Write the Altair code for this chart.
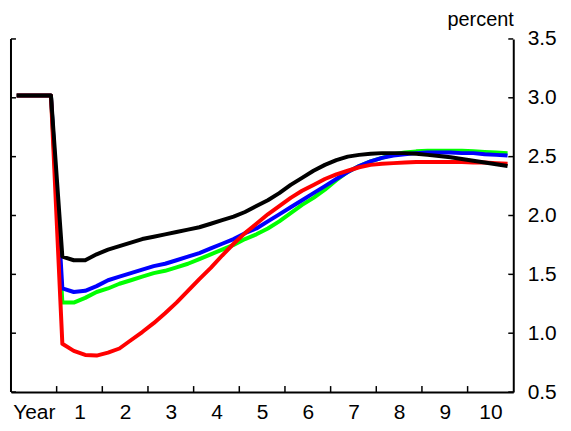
import altair as alt
import pandas as pd

# quarters (mid-points), 11 years x 4 quarters: first year is the "Year" baseline
quarters = [q + 0.5 for q in range(44)]
pre = [3.02, 3.02, 3.02, 3.02]

black_vals = pre + [1.65, 1.62, 1.62, 1.67, 1.71, 1.74, 1.77, 1.80, 1.82, 1.84,
                    1.86, 1.88, 1.90, 1.93, 1.96, 1.99, 2.03, 2.08, 2.13, 2.19,
                    2.26, 2.32, 2.38, 2.43, 2.47, 2.50, 2.515, 2.525, 2.53, 2.53,
                    2.53, 2.525, 2.515, 2.505, 2.495, 2.48, 2.465, 2.45, 2.435, 2.42]
blue_vals = pre + [1.38, 1.35, 1.36, 1.40, 1.45, 1.48, 1.51, 1.54, 1.57, 1.59,
                   1.62, 1.65, 1.68, 1.72, 1.76, 1.80, 1.85, 1.89, 1.95, 2.01,
                   2.07, 2.13, 2.19, 2.25, 2.31, 2.37, 2.42, 2.46, 2.49, 2.51,
                   2.52, 2.53, 2.535, 2.535, 2.535, 2.53, 2.53, 2.52, 2.515, 2.51]
green_vals = pre + [1.26, 1.26, 1.30, 1.35, 1.38, 1.42, 1.45, 1.48, 1.51, 1.53,
                    1.56, 1.59, 1.63, 1.67, 1.71, 1.75, 1.80, 1.84, 1.89, 1.95,
                    2.02, 2.09, 2.15, 2.22, 2.30, 2.37, 2.42, 2.46, 2.49, 2.52,
                    2.535, 2.545, 2.55, 2.55, 2.55, 2.55, 2.545, 2.54, 2.535, 2.53]
red_vals = pre + [0.91, 0.85, 0.815, 0.81, 0.835, 0.87, 0.94, 1.01, 1.085, 1.17,
                  1.26, 1.36, 1.46, 1.555, 1.66, 1.76, 1.85, 1.93, 2.01, 2.08,
                  2.15, 2.21, 2.26, 2.31, 2.35, 2.38, 2.41, 2.43, 2.44, 2.445,
                  2.45, 2.455, 2.455, 2.455, 2.455, 2.455, 2.45, 2.45, 2.445, 2.44]

series_names = ["green", "blue", "red", "black"]
series_colors = ["#00ff00", "#0000ff", "#ff0000", "#000000"]
series_vals = [green_vals, blue_vals, red_vals, black_vals]

x_label_positions = [2 + 4 * i for i in range(11)]
x_labels = ["Year", "1", "2", "3", "4", "5", "6", "7", "8", "9", "10"]
x_tick_positions = [4 * i for i in range(1, 11)]
y_ticks = [0.5, 1.0, 1.5, 2.0, 2.5, 3.0, 3.5]

W, H = 505, 355
FONT = "Liberation Sans"
FS = 21

rows = []
for order, (name, vals) in enumerate(zip(series_names, series_vals)):
    for t, v in zip(quarters, vals):
        rows.append({"t": t, "v": v, "series": name, "order": order})
df = pd.DataFrame(rows)

label_array = "[" + ",".join("'" + s + "'" for s in x_labels) + "]"

xscale = alt.Scale(domain=[0, 44], nice=False, zero=False)
yscale = alt.Scale(domain=[0.5, 3.5], nice=False, zero=False)

x_axis = alt.Axis(values=x_label_positions, labelExpr=label_array + "[(datum.value-2)/4]",
                  ticks=False, grid=False, domainColor="black", domainWidth=2,
                  labelFontSize=FS, labelFont=FONT, labelColor="black",
                  labelPadding=10, labelOverlap=False, labelFlush=False, title=None)
y_axis = alt.Axis(orient="right", values=y_ticks, format=".1f", ticks=False, grid=False,
                  domainColor="black", domainWidth=2,
                  labelFontSize=FS, labelFont=FONT, labelColor="black", labelPadding=14,
                  labelOverlap=False, labelFlush=False,
                  title="percent", titleAngle=0, titleAlign="right", titleBaseline="alphabetic",
                  titleX=0, titleY=-14, titleFontSize=FS - 1, titleFont=FONT,
                  titleFontWeight="normal", titleColor="black")

lines = alt.Chart(df).mark_line(strokeWidth=4, strokeJoin="round").encode(
    x=alt.X("t:Q", scale=xscale, axis=x_axis),
    y=alt.Y("v:Q", scale=yscale, axis=y_axis),
    color=alt.Color("series:N", scale=alt.Scale(domain=series_names, range=series_colors), legend=None),
    order=alt.Order("order:Q"),
    detail="series:N",
)

xt = alt.Chart(pd.DataFrame({"t": x_tick_positions})).mark_rule(color="black", strokeWidth=1.5).encode(
    x=alt.X("t:Q", scale=xscale, axis=x_axis),
    y=alt.value(H - 6), y2=alt.value(H),
)
yt_left = alt.Chart(pd.DataFrame({"v": y_ticks})).mark_rule(color="black", strokeWidth=1.5).encode(
    y=alt.Y("v:Q", scale=yscale, axis=y_axis),
    x=alt.value(0), x2=alt.value(5),
)
yt_right = alt.Chart(pd.DataFrame({"v": y_ticks})).mark_rule(color="black", strokeWidth=1.5).encode(
    y=alt.Y("v:Q", scale=yscale, axis=y_axis),
    x=alt.value(W - 5), x2=alt.value(W),
)
left_line = alt.Chart(pd.DataFrame({"v": [0.5]})).mark_rule(color="black", strokeWidth=2).encode(
    x=alt.value(0), y=alt.value(0), y2=alt.value(H),
)

chart = alt.layer(lines, xt, yt_left, yt_right, left_line).properties(
    width=W, height=H,
    autosize=alt.AutoSizeParams(type="none"),
    padding={"left": 3, "top": 30, "right": 50, "bottom": 30},
).configure_view(stroke=None)

chart.save("out.html", embed_options={"renderer": "svg", "actions": False})
